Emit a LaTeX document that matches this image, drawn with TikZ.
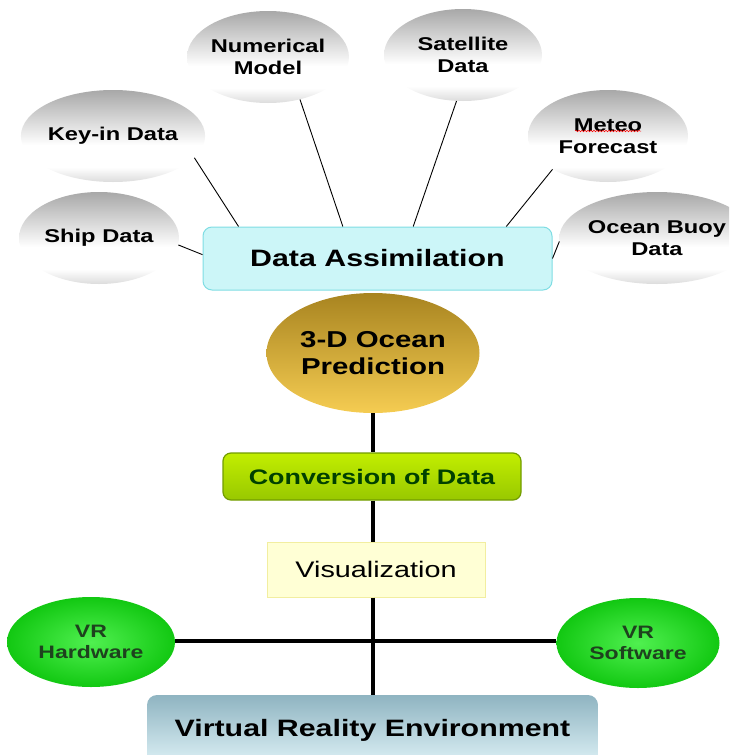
\documentclass[tikz,border=0pt]{standalone}
\usepackage{fontspec}
\setmainfont{Liberation Sans}[FakeStretch=1.28]
\usetikzlibrary{shapes,calc,decorations.pathmorphing}
\definecolor{srcgrey}{HTML}{A8A8A8}
\definecolor{srcgreylow}{HTML}{DCDCDC}
\definecolor{dafill}{HTML}{CCF6F8}
\definecolor{dadraw}{HTML}{7FDDE3}
\definecolor{goldtop}{HTML}{A88420}
\definecolor{goldmid}{HTML}{EDBA30}
\definecolor{goldlow}{HTML}{F5CC52}
\definecolor{limetop}{HTML}{C2EE00}
\definecolor{limelow}{HTML}{98C800}
\definecolor{limeedge}{HTML}{729C00}
\definecolor{visfill}{HTML}{FFFFD5}
\definecolor{visdraw}{HTML}{F2EEA0}
\definecolor{vrinner}{HTML}{50F050}
\definecolor{vrouter}{HTML}{12C812}
\definecolor{vrtext}{HTML}{1E421E}
\definecolor{steeltop}{HTML}{8FB4C1}
\definecolor{steellow}{HTML}{DDF1F6}
\pgfdeclareverticalshading{srcshade}{100bp}{color(0bp)=(srcgreylow);
  color(25bp)=(srcgreylow); color(33bp)=(white); color(45bp)=(white);
  color(75bp)=(srcgrey); color(100bp)=(srcgrey)}
\newcommand\fsz[1]{\fontsize{#1}{1.18\dimexpr#1pt\relax}\selectfont}
\tikzstyle{source}=[ellipse,inner sep=0pt,minimum width=160,minimum
height=92,shading=srcshade,align=center,font=\bfseries\fsz{18.5}]
\tikzstyle{vrball}=[ellipse,inner sep=0pt,minimum width=166,minimum
height=90,inner color=vrinner,outer color=vrouter,align=center,
text=vrtext,font=\bfseries\fsz{18}]
\tikzstyle{feed}=[black,line width=.9pt]
\tikzstyle{trunk}=[black,line width=4.5pt]
\tikzstyle{spell}=[red,line width=.5pt,decorate,decoration={snake,amplitude=.8,segment
  length=3}]

\begin{document}
\begin{tikzpicture}[x=1pt, y=-1pt]
  \useasboundingbox (0,0) rectangle (729,755);
  \clip (0,0) rectangle (729,755);

  % main chain
  \node[draw=dadraw, fill=dafill, rounded corners=9, line width=1pt,
    minimum width=349, minimum height=63, font=\bfseries\fsz{23.7}]
    (da) at (377.5,258.5) {Data Assimilation};
  \node[ellipse, minimum width=213, minimum height=120, inner sep=0pt,
    top color=goldtop, middle color=goldmid, bottom color=goldlow,
    align=center, font=\bfseries\fsz{23}] (ocean) at (373,353)
    {3-D Ocean\\Prediction};
  \node[draw=limeedge, line width=1.2pt, rounded corners=8, minimum width=298,
    minimum height=47, top color=limetop, bottom color=limelow,
    text=black!75!green, font=\bfseries\fsz{21}] (conv) at (372,476.5)
    {Conversion of Data};
  \node[draw=visdraw, fill=visfill, line width=1pt, minimum width=218,
    minimum height=55, font=\fsz{22.5}] (vis) at (376,569.5) {Visualization};
  \node[rounded corners=10, minimum width=451, minimum height=70,
    top color=steeltop, bottom color=steellow, font=\bfseries\fsz{23.7}]
    (vre) at (372.5,730) {Virtual Reality Environment};

  % data sources
  \node[source] (ship) at (99,238) {Ship Data};
  \node[source, minimum width=162] (key) at (113,136) {Key-in Data};
  \node[source, minimum width=158] (num) at (268,57) {Numerical\\Model};
  \node[source, minimum width=158] (sat) at (463,55) {Satellite\\Data};
  \node[source] (met) at (608,136) {Meteo\\Forecast};
  \node[source, minimum width=156] (buoy) at (657,238) {Ocean Buoy\\Data};
  \draw[spell] ($(met.center)+(-33,-5)$) -- ++(66,0);

  % vr
  \node[vrball, minimum width=168] (hw) at (91,642) {VR\\Hardware};
  \node[vrball, minimum width=163] (sw) at (638,643) {VR\\Software};

  \coordinate (da1) at ($(da.north west)!.103!(da.north east)$);
  \coordinate (da2) at ($(da.north west)!.401!(da.north east)$);
  \coordinate (da3) at ($(da.north west)!.602!(da.north east)$);
  \coordinate (da4) at ($(da.north west)!.868!(da.north east)$);
  \coordinate (da5) at ($(da.north west)!.44!(da.south west)$);
  \draw[feed] (key.-15.8) -- (da1) (num.-53.7) -- (da2) (sat.-98.5) -- (da3)
    (met.-149) -- (da4) (ship.-5) -- (da5) (buoy.182) -- (da.east);

  \draw[trunk] (ocean.south) -- (ocean.south |- conv.north)
    (ocean.south |- conv.south) -- (ocean.south |- vis.north)
    (ocean.south |- vis.south) -- (ocean.south |- vre.north);
  \draw[trunk] (hw.east |- 0,641) coordinate (h) -- (sw.west |- h);
\end{tikzpicture}
\end{document}
